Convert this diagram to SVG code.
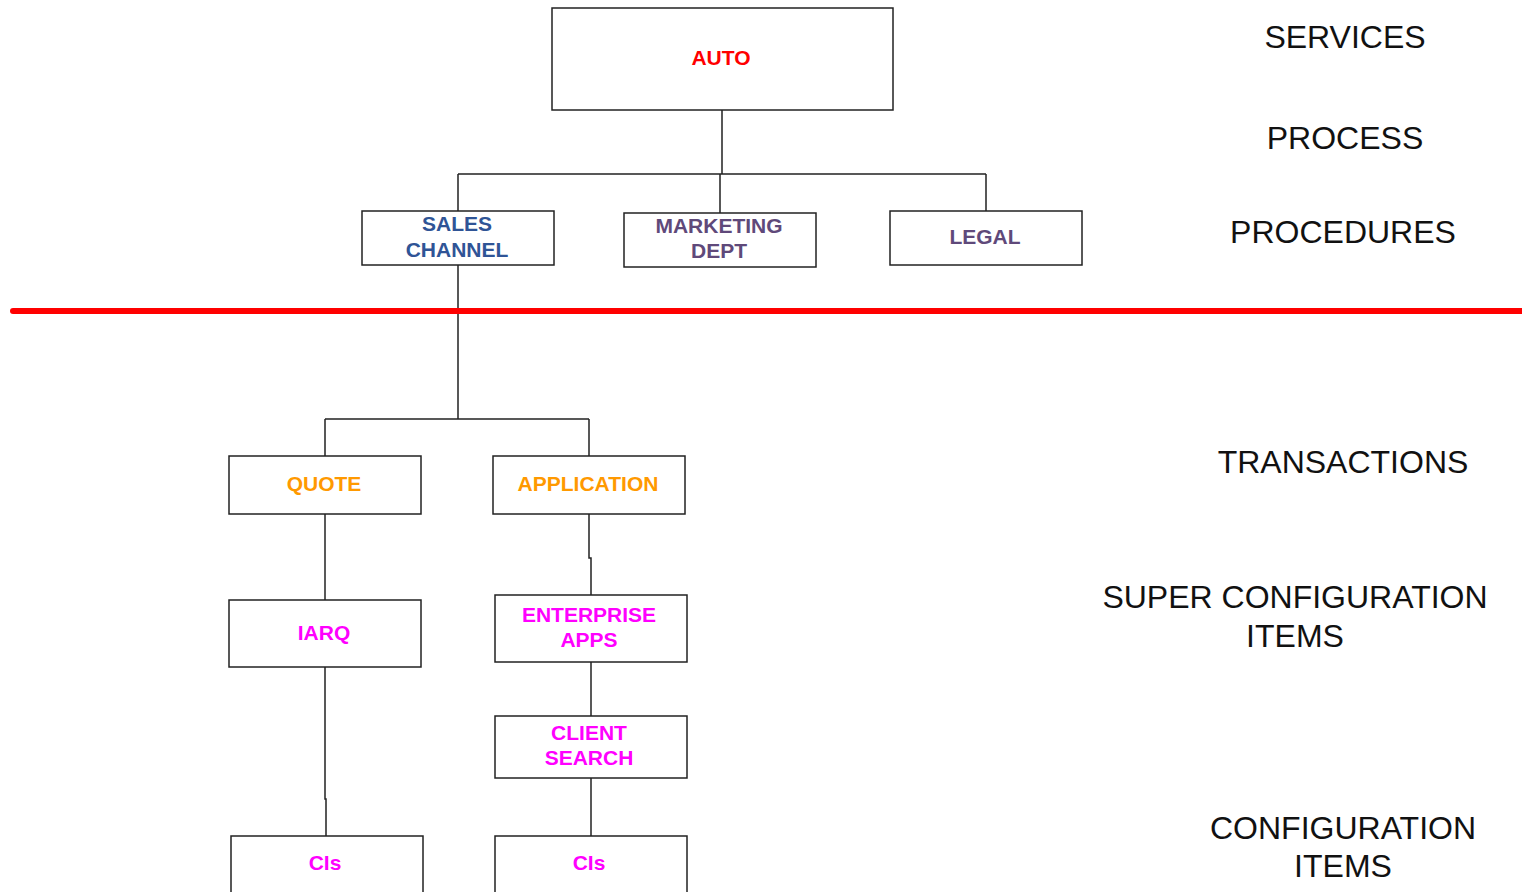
<svg xmlns="http://www.w3.org/2000/svg" width="1522" height="892" viewBox="0 0 1522 892">
  <style>
    .box { fill: #ffffff; stroke: #222222; stroke-width: 1.5; }
    .wire { fill: none; stroke: #222222; stroke-width: 1.5; }
    .lbl { font-family: "Liberation Sans", Arial, sans-serif; font-weight: bold; font-size: 21px; text-anchor: middle; }
    .tier { font-family: "Liberation Sans", Arial, sans-serif; font-size: 32px; fill: #111111; text-anchor: middle; }
    .red { fill: #ff0000; }
    .blue { fill: #2f5496; }
    .purple { fill: #5f497a; }
    .orange { fill: #ff9900; }
    .magenta { fill: #ff00ff; }
  </style>
  <rect width="1522" height="892" fill="#ffffff"/>

  <!-- connectors -->
  <g id="connectors">
    <path class="wire" d="M722,110 V174 M458,174 H986 M458,174 V211 M720,174 V213 M986,174 V211"/>
    <path class="wire" d="M458,265 V419 M325,419 H589 M325,419 V456 M589,419 V456"/>
    <path class="wire" d="M325,514 V600"/>
    <path class="wire" d="M589,514 V558 H591 V595"/>
    <path class="wire" d="M591,662 V716"/>
    <path class="wire" d="M591,778 V836"/>
    <path class="wire" d="M325,667 V799 H326 V836"/>
  </g>

  <!-- divider between procedures and transactions -->
  <line id="divider" x1="13" y1="311" x2="1525" y2="311" stroke="#ff0000" stroke-width="6" stroke-linecap="round"/>

  <g id="auto">
    <rect class="box" x="552" y="8" width="341" height="102"/>
    <text class="lbl red" x="721" y="65">AUTO</text>
  </g>
  <g id="sales-channel">
    <rect class="box" x="362" y="211" width="192" height="54"/>
    <text class="lbl blue" x="457" y="231">SALES</text>
    <text class="lbl blue" x="457" y="257">CHANNEL</text>
  </g>
  <g id="marketing-dept">
    <rect class="box" x="624" y="213" width="192" height="54"/>
    <text class="lbl purple" x="719" y="233">MARKETING</text>
    <text class="lbl purple" x="719" y="258">DEPT</text>
  </g>
  <g id="legal">
    <rect class="box" x="890" y="211" width="192" height="54"/>
    <text class="lbl purple" x="985" y="244">LEGAL</text>
  </g>
  <g id="quote">
    <rect class="box" x="229" y="456" width="192" height="58"/>
    <text class="lbl orange" x="324" y="491">QUOTE</text>
  </g>
  <g id="application">
    <rect class="box" x="493" y="456" width="192" height="58"/>
    <text class="lbl orange" x="588" y="491">APPLICATION</text>
  </g>
  <g id="iarq">
    <rect class="box" x="229" y="600" width="192" height="67"/>
    <text class="lbl magenta" x="324" y="640">IARQ</text>
  </g>
  <g id="enterprise-apps">
    <rect class="box" x="495" y="595" width="192" height="67"/>
    <text class="lbl magenta" x="589" y="622">ENTERPRISE</text>
    <text class="lbl magenta" x="589" y="647">APPS</text>
  </g>
  <g id="client-search">
    <rect class="box" x="495" y="716" width="192" height="62"/>
    <text class="lbl magenta" x="589" y="740">CLIENT</text>
    <text class="lbl magenta" x="589" y="765">SEARCH</text>
  </g>
  <g id="cis-left">
    <rect class="box" x="231" y="836" width="192" height="70"/>
    <text class="lbl magenta" x="325" y="870">CIs</text>
  </g>
  <g id="cis-right">
    <rect class="box" x="495" y="836" width="192" height="70"/>
    <text class="lbl magenta" x="589" y="870">CIs</text>
  </g>

  <!-- tier labels -->
  <g id="tiers">
    <text class="tier" x="1345" y="48">SERVICES</text>
    <text class="tier" x="1345" y="149">PROCESS</text>
    <text class="tier" x="1343" y="243">PROCEDURES</text>
    <text class="tier" x="1343" y="473">TRANSACTIONS</text>
    <text class="tier" x="1295" y="608">SUPER CONFIGURATION</text>
    <text class="tier" x="1295" y="647">ITEMS</text>
    <text class="tier" x="1343" y="839">CONFIGURATION</text>
    <text class="tier" x="1343" y="877">ITEMS</text>
  </g>
</svg>
